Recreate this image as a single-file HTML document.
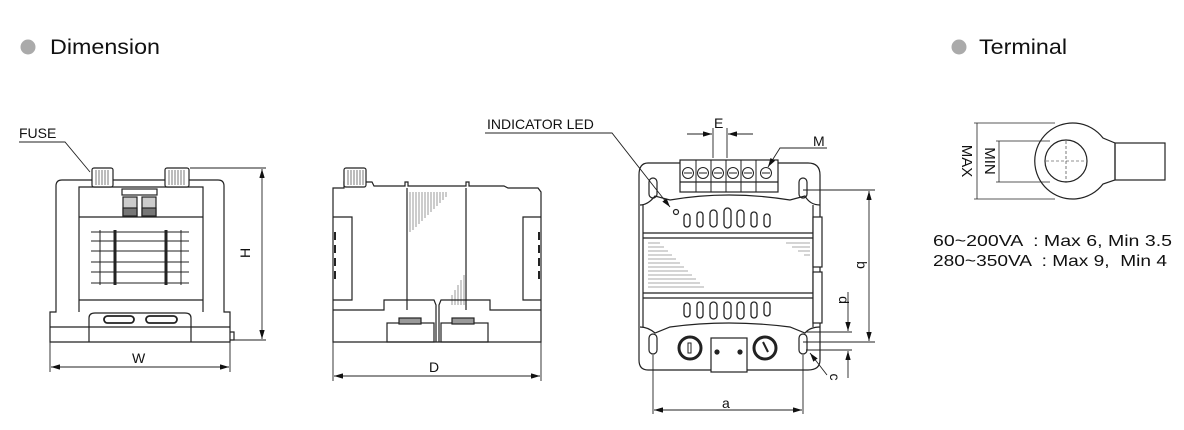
<!DOCTYPE html>
<html><head><meta charset="utf-8"><style>
html,body{margin:0;padding:0;background:#fff;}
svg{display:block;font-family:"Liberation Sans",Arial,sans-serif;}
</style></head><body>
<svg width="1184" height="430" viewBox="0 0 1184 430" xmlns="http://www.w3.org/2000/svg">
<defs>
<marker id="ar" viewBox="0 0 10 6" refX="10" refY="3" markerWidth="10" markerHeight="6" orient="auto-start-reverse"><path d="M0,0 L10,3 L0,6 z" fill="#111"/></marker>
</defs>
<rect width="1184" height="430" fill="#fff"/>
<!-- Titles -->
<circle cx="28" cy="47" r="7.5" fill="#aaa"/>
<text x="50" y="54" font-size="21" fill="#111" textLength="110" lengthAdjust="spacingAndGlyphs">Dimension</text>
<circle cx="959" cy="47" r="7.5" fill="#aaa"/>
<text x="979" y="54" font-size="21" fill="#111" textLength="88" lengthAdjust="spacingAndGlyphs">Terminal</text>

<g fill="none" stroke="#222" stroke-width="1.2">
<!-- ===== FRONT VIEW ===== -->
<path d="M50,342 L50,312 L56,312 L56,186 Q56,180 62,180 L218,180 Q224,180 224,186 L224,312 L230,312 L230,342 Z"/>
<path d="M79,312 L79,187 L203,187 L203,312"/>
<line x1="79" y1="217" x2="203" y2="217"/>
<line x1="79" y1="300" x2="203" y2="300"/>
<line x1="50" y1="327" x2="230" y2="327"/>
<path d="M89,342 L89,318 Q89,313 95,313 L185,313 Q191,313 191,318 L191,342"/>
<rect x="104" y="316" width="30" height="7" rx="3.5" stroke-width="1.8"/>
<rect x="146" y="316" width="31" height="7" rx="3.5" stroke-width="1.8"/>
<path d="M230,332 L234,332 L234,340 L230,340"/>
<rect x="92" y="168" width="21" height="19" rx="2" fill="#fff"/>
<rect x="165" y="168" width="24" height="19" rx="2" fill="#fff"/>
<g stroke-width="0.6"><path d="M96,170v15M99,170v15M102,170v15M105,170v15M108,170v15M169,170v15M172,170v15M175,170v15M178,170v15M181,170v15M184,170v15"/></g>
<rect x="122" y="189" width="35" height="6"/>
<rect x="123" y="197" width="14" height="19" fill="#ccc"/>
<rect x="142" y="197" width="14" height="19" fill="#ccc"/>
<rect x="123" y="208" width="14" height="8" fill="#777"/>
<rect x="142" y="208" width="14" height="8" fill="#777"/>
<g stroke-width="1">
<path d="M91,232H189M91,241H189M91,251H189M91,262H189M91,272H189M91,283H189"/>
<path d="M100,230v55M181,230v55"/>
</g>
<g stroke-width="3"><path d="M115,230v55M166,230v55"/></g>
<line x1="190" y1="168" x2="266" y2="168" stroke-width="0.9"/>
<line x1="234" y1="340" x2="266" y2="340" stroke-width="0.9"/>
<line x1="262" y1="169" x2="262" y2="339" stroke-width="0.9" marker-start="url(#ar)" marker-end="url(#ar)"/>
<line x1="50" y1="342" x2="50" y2="372" stroke-width="0.9"/>
<line x1="230" y1="342" x2="230" y2="372" stroke-width="0.9"/>
<line x1="51" y1="367" x2="229" y2="367" stroke-width="0.9" marker-start="url(#ar)" marker-end="url(#ar)"/>
<polyline points="19,142 65,142 90,172" stroke-width="0.9"/>

<!-- ===== SIDE VIEW ===== -->
<path d="M333,342 L333,188 L344,188 L344,182 L372,182 L374,186 L405,186 L405,182 L408,182 L408,186 L466,186 L466,182 L469,182 L469,186 L504,186 L508,188 L538,188 L541,192 L541,342 Z"/>
<rect x="344" y="168" width="22" height="19" rx="2" fill="#fff"/>
<g stroke-width="0.6"><path d="M348,170v15M351,170v15M354,170v15M357,170v15M360,170v15M363,170v15"/></g>
<path d="M333,217 L352,217 L352,300 L333,300"/>
<path d="M541,217 L523,217 L523,300 L541,300"/>
<g stroke-width="2"><path d="M335,232v8M335,245v8M335,258v8M335,271v8M539,232v8M539,245v8M539,258v8M539,271v8"/></g>
<line x1="407" y1="188" x2="407" y2="310"/>
<line x1="466" y1="188" x2="466" y2="310"/>
<g stroke-width="0.6" stroke="#555"><path d="M410,192v40M413,192v38M416,192v35M419,192v32M422,192v29M425,192v26M428,192v23M431,192v20M434,192v17M437,192v14M440,192v11M443,192v8M446,192v5M452,305v-10M455,305v-15M458,305v-20M461,305v-25M464,305v-30"/></g>
<path d="M333,310 L384,310 L384,300 L434,300 L436,305 L436,342"/>
<path d="M541,310 L490,310 L490,300 L441,300 L439,305 L439,342"/>
<rect x="387" y="323" width="47" height="19"/>
<rect x="441" y="323" width="47" height="19"/>
<rect x="399" y="318" width="22" height="6" fill="#999"/>
<rect x="452" y="318" width="22" height="6" fill="#999"/>
<line x1="333" y1="342" x2="333" y2="381" stroke-width="0.9"/>
<line x1="541" y1="342" x2="541" y2="381" stroke-width="0.9"/>
<line x1="334" y1="376" x2="540" y2="376" stroke-width="0.9" marker-start="url(#ar)" marker-end="url(#ar)"/>

<!-- ===== TOP VIEW ===== -->
<path d="M648,163 L808,163 Q820,163 820,175 L820,360 Q820,370 808,370 L648,370 Q639,370 639,360 L639,175 Q639,163 648,163 Z"/>
<path d="M640,205 Q648,205 655,196 L670,200 Q728,190 790,200 L805,196 Q810,205 820,205"/>
<path d="M640,327 Q648,327 655,333 L670,327 Q728,319 790,327 L805,333 Q810,327 820,327"/>
<line x1="643" y1="205" x2="643" y2="327"/>
<line x1="813" y1="205" x2="813" y2="327"/>
<line x1="643" y1="233" x2="813" y2="233"/>
<line x1="643" y1="238" x2="813" y2="238"/>
<line x1="643" y1="293" x2="813" y2="293"/>
<line x1="643" y1="298" x2="813" y2="298"/>
<g stroke-width="0.6" stroke="#555"><path d="M648,243h12M648,247h16M648,251h20M648,255h24M648,259h28M648,263h32M648,267h36M648,271h40M648,275h44M648,279h48M648,283h52M648,287h56M786,243h24M792,247h18M798,251h12M804,255h6"/></g>
<rect x="813" y="217" width="9" height="50" fill="#fff"/>
<rect x="813" y="272" width="9" height="51" fill="#fff"/>
<g stroke-width="1.3">
<rect x="684" y="214" width="6" height="13" rx="3"/><rect x="697" y="212" width="6" height="15" rx="3"/><rect x="710" y="210" width="7" height="17" rx="3.5"/><rect x="724" y="208" width="7" height="20" rx="3.5"/><rect x="737" y="210" width="7" height="17" rx="3.5"/><rect x="751" y="212" width="6" height="15" rx="3"/><rect x="764" y="214" width="6" height="13" rx="3"/>
<rect x="684" y="303" width="6" height="14" rx="3"/><rect x="697" y="302" width="6" height="16" rx="3"/><rect x="710" y="302" width="7" height="17" rx="3.5"/><rect x="724" y="302" width="7" height="17" rx="3.5"/><rect x="737" y="302" width="7" height="17" rx="3.5"/><rect x="751" y="302" width="6" height="16" rx="3"/><rect x="764" y="302" width="6" height="14" rx="3"/>
</g>
<rect x="649" y="178" width="8" height="20" rx="4"/>
<rect x="799" y="178" width="8" height="20" rx="4"/>
<rect x="649" y="334" width="8" height="20" rx="4"/>
<rect x="799" y="334" width="8" height="20" rx="4"/>
<rect x="680" y="160" width="98" height="32" fill="#fff"/>
<g stroke-width="1">
<path d="M696,160v32M711,160v32M726,160v32M741,160v32M756,160v32"/>
<circle cx="688" cy="173" r="5.5"/><circle cx="703" cy="173" r="5.5"/><circle cx="718" cy="173" r="5.5"/><circle cx="733" cy="173" r="5.5"/><circle cx="748" cy="173" r="5.5"/><circle cx="766" cy="173" r="5.5"/>
<path d="M684,173h8M699,173h8M714,173h8M729,173h8M744,173h8M762,173h8"/>
</g>
<line x1="680" y1="182" x2="778" y2="182"/>
<circle cx="676" cy="212" r="2.5"/>
<circle cx="690" cy="348" r="11" stroke-width="3"/>
<circle cx="765" cy="348" r="11" stroke-width="3"/>
<rect x="688" y="343" width="3" height="10" stroke-width="1"/>
<path d="M763,342 L768,352" stroke-width="2"/>
<rect x="711" y="338" width="36" height="34" fill="#fff"/>
<circle cx="717" cy="352" r="2" fill="#222"/><circle cx="740" cy="352" r="2" fill="#222"/>
<g stroke-width="0.9">
<line x1="713" y1="128" x2="713" y2="158"/>
<line x1="727" y1="128" x2="727" y2="158"/>
<line x1="687" y1="134" x2="712" y2="134" marker-end="url(#ar)"/>
<line x1="753" y1="134" x2="728" y2="134" marker-end="url(#ar)"/>
<polyline points="827,148 780,148 768,167" marker-end="url(#ar)"/>
<polyline points="485,133 612,133 670,207" marker-end="url(#ar)"/>
<line x1="803" y1="190" x2="875" y2="190"/>
<line x1="803" y1="342" x2="875" y2="342"/>
<line x1="869" y1="191" x2="869" y2="341" marker-start="url(#ar)" marker-end="url(#ar)"/>
<line x1="806" y1="332" x2="852" y2="332"/>
<line x1="806" y1="350" x2="852" y2="350"/>
<line x1="848" y1="292" x2="848" y2="331" marker-end="url(#ar)"/>
<line x1="848" y1="378" x2="848" y2="351" marker-end="url(#ar)"/>
<line x1="827" y1="375" x2="810" y2="353" marker-end="url(#ar)"/>
<line x1="653" y1="355" x2="653" y2="414"/>
<line x1="803" y1="355" x2="803" y2="414"/>
<line x1="654" y1="410" x2="802" y2="410" marker-start="url(#ar)" marker-end="url(#ar)"/>
</g>

<!-- ===== TERMINAL LUG ===== -->
<path d="M1103,138 A38,38 0 1 0 1103,184 L1115,180 L1115,143 Z" fill="#fff"/>
<rect x="1115" y="143" width="50" height="37"/>
<circle cx="1066" cy="161" r="21"/>
<g stroke-width="0.6" stroke-dasharray="3,2"><line x1="1066" y1="141" x2="1066" y2="182"/><line x1="1046" y1="161" x2="1086" y2="161"/></g>
<g stroke-width="0.8">
<line x1="974" y1="123" x2="1055" y2="123"/>
<line x1="974" y1="199" x2="1055" y2="199"/>
<line x1="996" y1="141" x2="1050" y2="141"/>
<line x1="996" y1="182" x2="1050" y2="182"/>
<line x1="977" y1="123" x2="977" y2="199"/>
<line x1="999" y1="141" x2="999" y2="182"/>
</g>
</g>

<g font-size="14" fill="#111">
<text x="19" y="138">FUSE</text>
<text x="132" y="363">W</text>
<text x="429" y="372">D</text>
<text x="487" y="129">INDICATOR LED</text>
<text x="714" y="128">E</text>
<text x="813" y="146">M</text>
<text x="722" y="408">a</text>
<text transform="translate(250,258) rotate(-90)">H</text>
<text transform="translate(857,265) rotate(90)" text-anchor="middle">b</text>
<text transform="translate(839,300) rotate(90)" text-anchor="middle">d</text>
<text transform="translate(830,377) rotate(90)" text-anchor="middle">c</text>
<text transform="translate(962,161) rotate(90)" text-anchor="middle" font-size="15">MAX</text>
<text transform="translate(985,161) rotate(90)" text-anchor="middle" font-size="15">MIN</text>
<text x="933" y="246" font-size="16" textLength="239" lengthAdjust="spacingAndGlyphs" xml:space="preserve">60~200VA  : Max 6, Min 3.5</text>
<text x="933" y="266" font-size="16" textLength="234" lengthAdjust="spacingAndGlyphs" xml:space="preserve">280~350VA  : Max 9,  Min 4</text>
</g>
</svg>
</body></html>
